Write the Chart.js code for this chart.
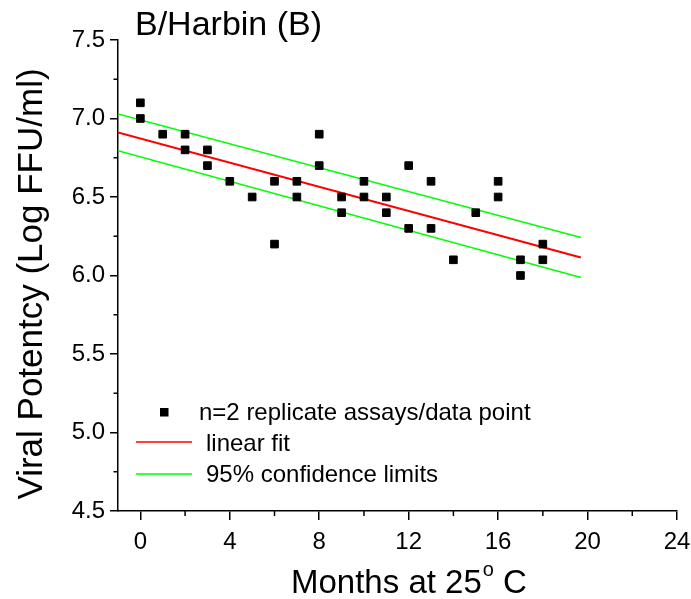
<!DOCTYPE html>
<html>
<head>
<meta charset="utf-8">
<script src="https://cdn.jsdelivr.net/npm/chart.js@4/dist/chart.umd.min.js"></script>
<style>
  body { margin: 0; background: #fff; }
  #wrap { width: 691px; height: 599px; }
</style>
</head>
<body>
<div id="wrap"><canvas id="chartCanvas" width="691" height="599"></canvas></div>
<script>
// data
const months = [0, 0, 1, 2, 2, 3, 3, 4, 5, 6, 6, 7, 7, 8, 8, 9, 9, 10, 10, 11, 11, 12, 12, 13, 13, 14, 15, 16, 16, 17, 17, 18, 18];
const potency = [7.1, 7.0, 6.9, 6.9, 6.8, 6.8, 6.7, 6.6, 6.5, 6.6, 6.2, 6.6, 6.5, 6.9, 6.7, 6.5, 6.4, 6.6, 6.5, 6.5, 6.4, 6.7, 6.3, 6.6, 6.3, 6.1, 6.4, 6.6, 6.5, 6.1, 6.0, 6.2, 6.1];
const fitX = [-1, 19.7];
const fitY = [6.911, 6.115];
const upperY = [7.029, 6.242];
const lowerY = [6.794, 5.987];
const xTicks = [0, 4, 8, 12, 16, 20, 24];
const yTicks = [4.5, 5.0, 5.5, 6.0, 6.5, 7.0, 7.5];

const chartTitle = 'B/Harbin (B)';
const xTitle = 'Months at 25';
const yTitle = 'Viral Potentcy (Log FFU/ml)';
const legendLabels = ['n=2 replicate assays/data point', 'linear fit', '95% confidence limits'];

const FONT = '"Liberation Sans", Arial, sans-serif';

function toPoints(xs, ys) {
    return xs.map((x, i) => ({ x: x, y: ys[i] }));
}

// titles, minor ticks and legend
const extras = {
    id: 'extras',
    afterDraw(chart) {
        const ctx = chart.ctx;
        const xs = chart.scales.x;
        const ys = chart.scales.y;
        const area = chart.chartArea;
        ctx.save();
        ctx.strokeStyle = '#000';
        ctx.lineWidth = 1.5;

        // minor ticks halfway between the major ones
        for (let i = 0; i < xTicks.length - 1; i++) {
            const px = xs.getPixelForValue((xTicks[i] + xTicks[i + 1]) / 2);
            ctx.beginPath();
            ctx.moveTo(px, area.bottom);
            ctx.lineTo(px, area.bottom + 5);
            ctx.stroke();
        }
        for (let i = 0; i < yTicks.length - 1; i++) {
            const py = ys.getPixelForValue((yTicks[i] + yTicks[i + 1]) / 2);
            ctx.beginPath();
            ctx.moveTo(area.left, py);
            ctx.lineTo(area.left - 4.5, py);
            ctx.stroke();
        }

        ctx.fillStyle = '#000';
        ctx.textBaseline = 'alphabetic';

        // chart title
        ctx.font = '34px ' + FONT;
        ctx.textAlign = 'left';
        ctx.fillText(chartTitle, 135, 35);

        // x title with superscript o
        ctx.font = '33px ' + FONT;
        let tx = 291;
        ctx.fillText(xTitle, tx, 593);
        tx += ctx.measureText(xTitle).width + 1;
        ctx.font = '20px ' + FONT;
        ctx.fillText('o', tx, 576);
        tx += ctx.measureText('o').width;
        ctx.font = '33px ' + FONT;
        ctx.fillText(' C', tx, 593);

        // y title
        ctx.save();
        ctx.translate(42, 284);
        ctx.rotate(-Math.PI / 2);
        ctx.font = '35px ' + FONT;
        ctx.textAlign = 'center';
        ctx.fillText(yTitle, 0, 0);
        ctx.restore();

        // legend
        const ds = chart.data.datasets;
        ctx.font = '24px ' + FONT;
        ctx.textAlign = 'left';
        ctx.fillStyle = ds[0].backgroundColor;
        ctx.fillRect(160, 408, 8.5, 8.5);
        ctx.fillStyle = '#000';
        ctx.fillText(legendLabels[0], 199, 420);

        ctx.strokeStyle = ds[1].borderColor;
        ctx.lineWidth = 1.5;
        ctx.beginPath();
        ctx.moveTo(136, 442);
        ctx.lineTo(192, 442);
        ctx.stroke();
        ctx.fillText(legendLabels[1], 206, 451);

        ctx.strokeStyle = ds[2].borderColor;
        ctx.beginPath();
        ctx.moveTo(136, 474);
        ctx.lineTo(192, 474);
        ctx.stroke();
        ctx.fillText(legendLabels[2], 206, 482);

        ctx.restore();
    }
};

const ctx = document.getElementById('chartCanvas').getContext('2d');

window.myChart = new Chart(ctx, {
    type: 'scatter',
    data: {
        datasets: [
            {
                label: legendLabels[0],
                data: toPoints(months, potency),
                pointStyle: 'rect',
                pointRadius: 5.4,
                borderWidth: 1,
                backgroundColor: '#000',
                borderColor: '#000',
                showLine: false
            },
            {
                label: legendLabels[1],
                data: toPoints(fitX, fitY),
                showLine: true,
                borderColor: '#ff0000',
                borderWidth: 2,
                pointRadius: 0
            },
            {
                label: legendLabels[2],
                data: toPoints(fitX, upperY),
                showLine: true,
                borderColor: '#00ff00',
                borderWidth: 1.5,
                pointRadius: 0
            },
            {
                label: 'lower',
                data: toPoints(fitX, lowerY),
                showLine: true,
                borderColor: '#00ff00',
                borderWidth: 1.5,
                pointRadius: 0
            }
        ]
    },
    options: {
        responsive: false,
        animation: false,
        layout: { padding: { top: 40, right: 14, left: 0, bottom: 0 } },
        plugins: {
            legend: { display: false },
            tooltip: { enabled: false }
        },
        scales: {
            x: {
                type: 'linear',
                min: -1,
                max: 24,
                afterBuildTicks: (scale) => { scale.ticks = xTicks.map(v => ({ value: v })); },
                afterFit: (scale) => {
                    scale.height = 88;
                    scale.paddingLeft = 0;
                    scale.paddingRight = 0;
                },
                grid: { drawOnChartArea: false, tickLength: 9, lineWidth: 1.5, color: '#000' },
                border: { color: '#000', width: 1.5 },
                ticks: {
                    color: '#000',
                    font: { family: FONT, size: 24 },
                    padding: 8,
                    maxRotation: 0,
                    callback: (v) => String(v)
                }
            },
            y: {
                type: 'linear',
                min: 4.5,
                max: 7.5,
                afterBuildTicks: (scale) => { scale.ticks = yTicks.map(v => ({ value: v })); },
                afterFit: (scale) => {
                    scale.width = 118;
                    scale.paddingTop = 0;
                    scale.paddingBottom = 0;
                },
                grid: { drawOnChartArea: false, tickLength: 8, lineWidth: 1.5, color: '#000' },
                border: { color: '#000', width: 1.5 },
                ticks: {
                    color: '#000',
                    font: { family: FONT, size: 24 },
                    padding: 5,
                    callback: (v) => Number(v).toFixed(1)
                }
            }
        }
    },
    plugins: [extras]
});
</script>
</body>
</html>
